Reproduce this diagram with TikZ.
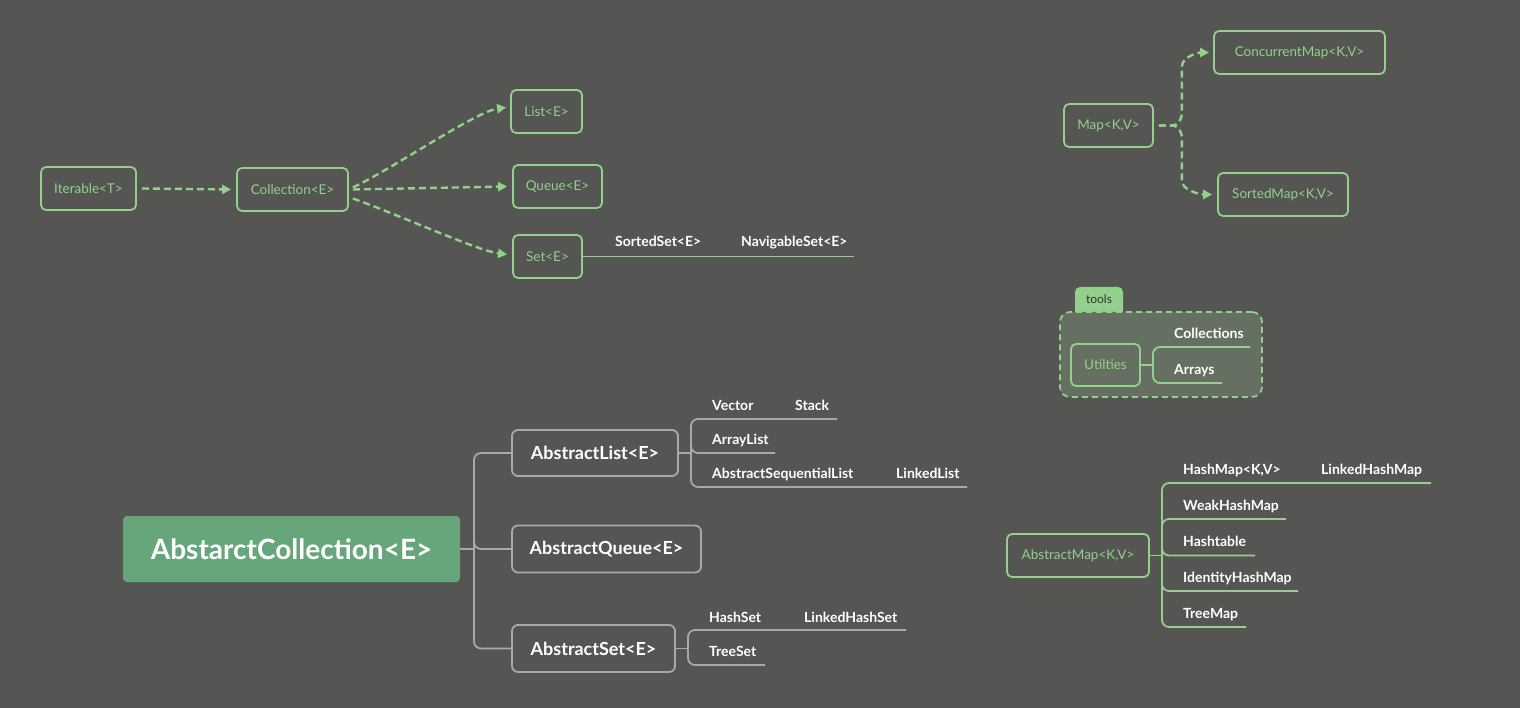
\documentclass[tikz,border=0pt]{standalone}
\usepackage{fontspec}
\setmainfont{Lato}
\usetikzlibrary{positioning,arrows.meta}
\definecolor{bg}{HTML}{555653}
\definecolor{leaf}{HTML}{92D08B}
\definecolor{root}{HTML}{67A57A}
\definecolor{twig}{HTML}{A9A9A7}
\definecolor{pane}{HTML}{667062}

\begin{document}
\begin{tikzpicture}[x=1pt,y=-1pt,
        iface/.style={draw=leaf,line width=1.8pt,rounded corners=5pt,text=leaf,font=\fontsize{13.5}{16}\selectfont,minimum height=43pt,inner sep=0pt},
        abst/.style={draw=twig,line width=1.8pt,rounded corners=6pt,text=white,font=\fontsize{18}{21}\selectfont\bfseries,minimum height=46pt,inner sep=0pt},
        impl/.style={text=white,font=\fontsize{14}{16}\selectfont\bfseries,anchor=base west,inner sep=0pt},
        dep/.style={draw=leaf,line width=2.4pt,dash pattern=on 7pt off 4pt,-{Triangle[length=9pt,width=9pt]}},
        branch/.style={line width=1.8pt,rounded corners=7pt}]
        \useasboundingbox[fill=bg] (0,0) rectangle (1520,708);

        % interfaces
        \node[iface,minimum width=95pt] (iter) at (88.5,188.5) {Iterable<T>};
        \node[iface,minimum width=111pt] (coll) at (292.5,189.5) {Collection<E>};
        \node[iface,minimum width=71pt] (list) at (546.5,111.5) {List<E>};
        \node[iface,minimum width=89pt] (queue) at (557.5,186.5) {Queue<E>};
        \node[iface,minimum width=69pt] (set) at (547.5,256.5) {Set<E>};
        \node[iface,minimum width=89pt] (map) at (1108.5,125.5) {Map<K,V>};
        \node[iface,minimum width=171pt] (cmap) at (1299.5,52.5) {ConcurrentMap<K,V>};
        \node[iface,minimum width=130pt] (smap) at (1283,194.5) {SortedMap<K,V>};

        \draw[dep] ([xshift=5pt]iter.east) -- ([xshift=-5pt]coll.east -| coll.west);
        \draw[dep] ([xshift=4pt,yshift=2pt]coll.east) .. controls +(45,-22) and +(-30,4) .. ([xshift=-4pt,yshift=4pt]list.west);
        \draw[dep] ([xshift=4pt]coll.east) -- ([xshift=-5pt]queue.west);
        \draw[dep] ([xshift=4pt,yshift=-9pt]coll.east) .. controls +(50,18) and +(-30,-4) .. ([xshift=-5pt,yshift=2pt]set.west);
        \draw[dep] ([xshift=5pt]map.east) -- ++(12,0) .. controls +(8,0) and +(0,8) .. ++(11,-14) -- ++(0,-45) .. controls +(0,-10) and +(-10,0) .. ([xshift=-4pt]cmap.west);
        \draw[dep] ([xshift=5pt]map.east) -- ++(12,0) .. controls +(8,0) and +(0,-8) .. ++(11,14) -- ++(0,41) .. controls +(0,10) and +(-12,0) .. ([xshift=-5pt]smap.west);

        \coordinate (setend) at (854,256.5);
        \draw[leaf,line width=1.8pt] (set.east) -- (setend);
        \node[impl] (sset) at (615,247) {SortedSet<E>};
        \node[impl] (nset) at (741,247) {NavigableSet<E>};

        % tools
        \node[fill=leaf,rounded corners=5pt,minimum width=48pt,minimum height=31pt,inner sep=0pt] (tab) at (1099,302.5) {};
        \node[font=\fontsize{12}{14}\selectfont,text=bg!60!black,anchor=base] at (1099,304) {tools};
        \node[draw=leaf,fill=pane,dash pattern=on 6pt off 4pt,line width=1.8pt,rounded corners=10pt,minimum width=202pt,minimum height=85pt] (tools) at (1161,354.5) {};
        \node[iface,minimum width=69pt,minimum height=42pt] (util) at (1105.5,365) {Utilties};
        \coordinate (utfork) at (1153,365);
        \coordinate (colsend) at (1250,347);
        \coordinate (arrend) at (1222,383);
        \draw[leaf,line width=1.8pt] (util.east) -- (utfork);
        \foreach \x in {colsend,arrend}{
            \draw[leaf,branch] (utfork) |- (\x);
        }
        \node[impl] at (1174,338) {Collections};
        \node[impl] at (1174,374) {Arrays};

        % abstract classes
        \node[fill=root,rounded corners=4pt,text=white,font=\fontsize{28}{32}\selectfont\bfseries,minimum width=337pt,minimum height=66pt] (acoll) at (291.5,549) {AbstarctCollection<E>};
        \node[abst,minimum width=166pt] (alist) at (595,453) {AbstractList<E>};
        \node[abst,minimum width=189pt,minimum height=47pt] (aqueue) at (606.5,549) {AbstractQueue<E>};
        \node[abst,minimum width=163pt,minimum height=47pt] (aset) at (593.5,648.5) {AbstractSet<E>};

        \coordinate (acfork) at (474,549);
        \draw[twig,line width=1.8pt] (acoll.east) -- (acfork);
        \foreach \x in {alist,aqueue,aset}{
            \draw[twig,branch] (acfork) |- (\x.west);
        }

        \coordinate (alfork) at (691,453);
        \draw[twig,line width=1.8pt] (alist.east) -- (alfork);
        \foreach \x/\y/\e in {837/419/vecend,775/453/arrlend,967/487/seqend}{
            \coordinate (\e) at (\x,\y);
            \draw[twig,branch] (alfork) |- (\e);
        }
        \node[impl] at (712,410) {Vector};
        \node[impl] at (795,410) {Stack};
        \node[impl] at (712,444) {ArrayList};
        \node[impl] at (712,478) {AbstractSequentialList};
        \node[impl] at (896,478) {LinkedList};

        \coordinate (asfork) at (688,648.5);
        \draw[twig,line width=1.8pt] (aset.east) -- (asfork);
        \foreach \x/\y/\e in {906/630/hsetend,765/665/tsetend}{
            \coordinate (\e) at (\x,\y);
            \draw[twig,branch] (asfork) |- (\e);
        }
        \node[impl] at (709,622) {HashSet};
        \node[impl] at (804,622) {LinkedHashSet};
        \node[impl] at (709,656) {TreeSet};

        % maps
        \node[iface,minimum width=142pt] (amap) at (1078,555.5) {AbstractMap<K,V>};
        \coordinate (amfork) at (1162,555.5);
        \draw[leaf,line width=1.8pt] (amap.east) -- (amfork);
        \foreach \x/\y/\e in {1431/483/hmapend,1286/519/wmapend,1255/555.5/htabend,1298/591/imapend,1246/627/tmapend}{
            \coordinate (\e) at (\x,\y);
            \draw[leaf,branch] (amfork) |- (\e);
        }
        \node[impl] at (1183,474) {HashMap<K,V>};
        \node[impl] at (1321,474) {LinkedHashMap};
        \node[impl] at (1183,510) {WeakHashMap};
        \node[impl] at (1183,546) {Hashtable};
        \node[impl] at (1183,582) {IdentityHashMap};
        \node[impl] at (1183,618) {TreeMap};
    \end{tikzpicture}
\end{document}
